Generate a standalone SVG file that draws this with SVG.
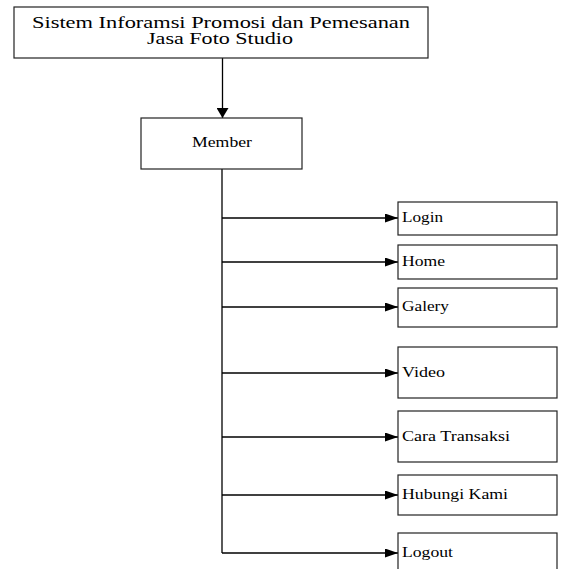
<svg xmlns="http://www.w3.org/2000/svg" width="561" height="569" viewBox="0 0 561 569">
<style>
.box{fill:#fff;stroke:#222;stroke-width:1.2}
.t{font-family:"Liberation Serif","Times New Roman",serif;fill:#000}
.s{font-size:15px}
.c{stroke:#000;stroke-width:1.3;fill:none}
</style>
<defs>
<marker id="ah" viewBox="0 0 10 10" refX="10" refY="5" markerWidth="13" markerHeight="9" markerUnits="userSpaceOnUse" orient="auto" preserveAspectRatio="none">
<path d="M0,0 L10,5 L0,10 z" fill="#000"/>
</marker>
<marker id="ah2" viewBox="0 0 10 10" refX="10" refY="5" markerWidth="10" markerHeight="12" markerUnits="userSpaceOnUse" orient="auto" preserveAspectRatio="none">
<path d="M0,0 L10,5 L0,10 z" fill="#000"/>
</marker>
</defs>
<rect width="561" height="569" fill="#fff"/>
<g id="connectors">
<line class="c" x1="222.5" y1="58" x2="222.5" y2="118" marker-end="url(#ah2)"/>
<line class="c" x1="222" y1="169" x2="222" y2="553"/>
<line class="c" x1="222" y1="218" x2="398" y2="218" marker-end="url(#ah)"/>
<line class="c" x1="222" y1="262" x2="398" y2="262" marker-end="url(#ah)"/>
<line class="c" x1="222" y1="307" x2="398" y2="307" marker-end="url(#ah)"/>
<line class="c" x1="222" y1="373" x2="398" y2="373" marker-end="url(#ah)"/>
<line class="c" x1="222" y1="437" x2="398" y2="437" marker-end="url(#ah)"/>
<line class="c" x1="222" y1="495" x2="398" y2="495" marker-end="url(#ah)"/>
<line class="c" x1="222" y1="553" x2="398" y2="553" marker-end="url(#ah)"/>
</g>
<g id="title">
<rect class="box" x="14" y="7" width="414" height="51"/>
<text class="t" x="32" y="28" font-size="16" textLength="378" lengthAdjust="spacingAndGlyphs">Sistem Inforamsi Promosi dan Pemesanan</text>
<text class="t" x="147" y="44" font-size="16" textLength="146" lengthAdjust="spacingAndGlyphs">Jasa Foto Studio</text>
</g>
<g id="member">
<rect class="box" x="141" y="118" width="161" height="51"/>
<text class="t s" x="192" y="147" textLength="60" lengthAdjust="spacingAndGlyphs">Member</text>
</g>
<g id="login">
<rect class="box" x="398" y="202" width="159" height="33"/>
<text class="t s" x="402" y="222" textLength="41" lengthAdjust="spacingAndGlyphs">Login</text>
</g>
<g id="home">
<rect class="box" x="398" y="245" width="159" height="34"/>
<text class="t s" x="402" y="266" textLength="43" lengthAdjust="spacingAndGlyphs">Home</text>
</g>
<g id="galery">
<rect class="box" x="398" y="288" width="159" height="39"/>
<text class="t s" x="402" y="311" textLength="47" lengthAdjust="spacingAndGlyphs">Galery</text>
</g>
<g id="video">
<rect class="box" x="398" y="347" width="159" height="51"/>
<text class="t s" x="402" y="377" textLength="43" lengthAdjust="spacingAndGlyphs">Video</text>
</g>
<g id="cara-transaksi">
<rect class="box" x="398" y="411" width="159" height="51"/>
<text class="t s" x="402" y="441" textLength="108" lengthAdjust="spacingAndGlyphs">Cara Transaksi</text>
</g>
<g id="hubungi-kami">
<rect class="box" x="398" y="475" width="159" height="40"/>
<text class="t s" x="402" y="499" textLength="106" lengthAdjust="spacingAndGlyphs">Hubungi Kami</text>
</g>
<g id="logout">
<rect class="box" x="398" y="533" width="159" height="50"/>
<text class="t s" x="402" y="557" textLength="51" lengthAdjust="spacingAndGlyphs">Logout</text>
</g>
</svg>
